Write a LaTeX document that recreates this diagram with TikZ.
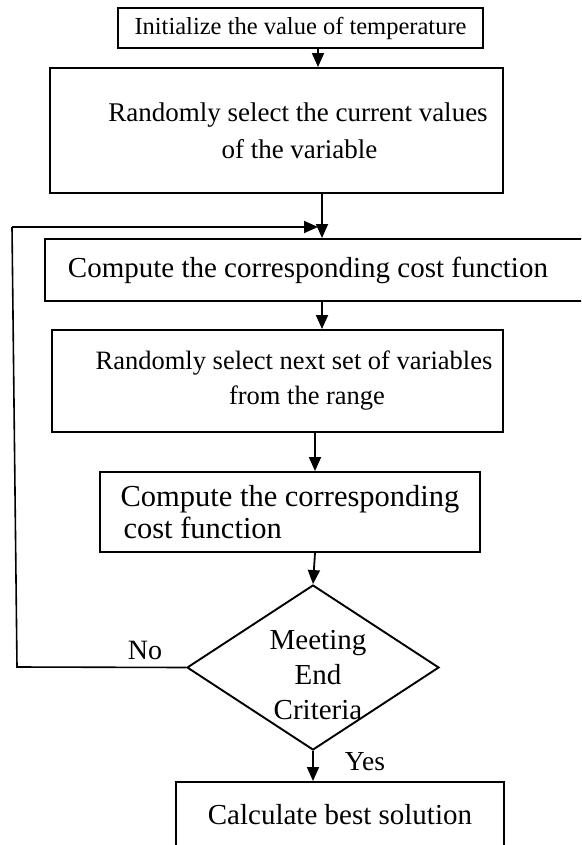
\documentclass[tikz,border=0pt]{standalone}
\usepackage{fontspec}
\setmainfont{Liberation Serif}
\usetikzlibrary{shapes.geometric,arrows.meta}
\newcommand{\fs}[2]{\fontsize{#1}{#2}\selectfont}
\begin{document}
\begin{tikzpicture}[x=1pt,y=-1pt,
  box/.style={draw,line width=1.9pt,rectangle,inner sep=0pt,align=center},
  arr/.style={line width=1.8pt,-{Triangle[length=14pt,width=12pt]}},
  ln/.style={line width=1.6pt},
  lbl/.style={inner sep=0pt}]
\useasboundingbox (0,0) rectangle (581,845);
\clip (0,0) rectangle (581,845);
\node[box,minimum width=365pt,minimum height=40pt,font=\fs{24.5}{30}] (b1) at (300.5,28) {Initialize the value of temperature};
\node[box,minimum width=453pt,minimum height=125pt,font=\fs{27}{37}] (b2) at (276.5,130.5) {\hspace*{43pt}Randomly select the current values\\\hspace*{46pt}of the variable};
\node[box,minimum width=556pt,minimum height=62pt,anchor=north west,font=\fs{29}{35}] (b3) at (44,238) {\hspace*{-30pt}Compute the corresponding cost function};
\node[box,minimum width=451pt,minimum height=102pt,font=\fs{26.5}{35}] (b4) at (277.5,381) {\hspace*{33pt}Randomly select next set of variables\\\hspace*{59pt}from the range};
\node[box,minimum width=380pt,minimum height=80pt,font=\fs{30.5}{32},align=left] (b5) at (290,512) {Compute the corresponding\\\hspace*{3pt}cost function};
\node[draw,line width=1.9pt,diamond,minimum width=252pt,minimum height=165pt,inner sep=0pt] (dia) at (313,667.5) {};
\node[lbl,align=center,font=\fs{29}{35}] (dtxt) at (318,675) {Meeting\\End\\Criteria};
\node[box,minimum width=328pt,minimum height=66pt,anchor=north west,font=\fs{29}{35}] (b6) at (175,781) {Calculate best solution};
\node[lbl,font=\fs{28}{30}] (no) at (145,650) {No};
\node[lbl,font=\fs{27.5}{30}] (yes) at (365,762) {Yes};
\coordinate (x1) at (318,0);
\coordinate (x2) at (322,0);
\coordinate (x3) at (315,0);
\coordinate (fbA) at (17,667);
\coordinate (fbB) at (12,227);
\draw[arr] (b1.south -| x1) -- (b2.north -| x1);
\draw[arr] (b2.south -| x2) -- (b3.north -| x2);
\draw[arr] (b3.south -| x2) -- (b4.north -| x2);
\draw[arr] (b4.south -| x3) -- (b5.north -| x3);
\draw[arr] (b5.south -| x3) -- (dia.north);
\draw[arr] (dia.south) -- (b6.north -| dia.south);
\draw[ln] (dia.west) -- (fbA) -- (fbB);
\draw[arr] (fbB) -- (fbB -| x1);
\end{tikzpicture}
\end{document}
